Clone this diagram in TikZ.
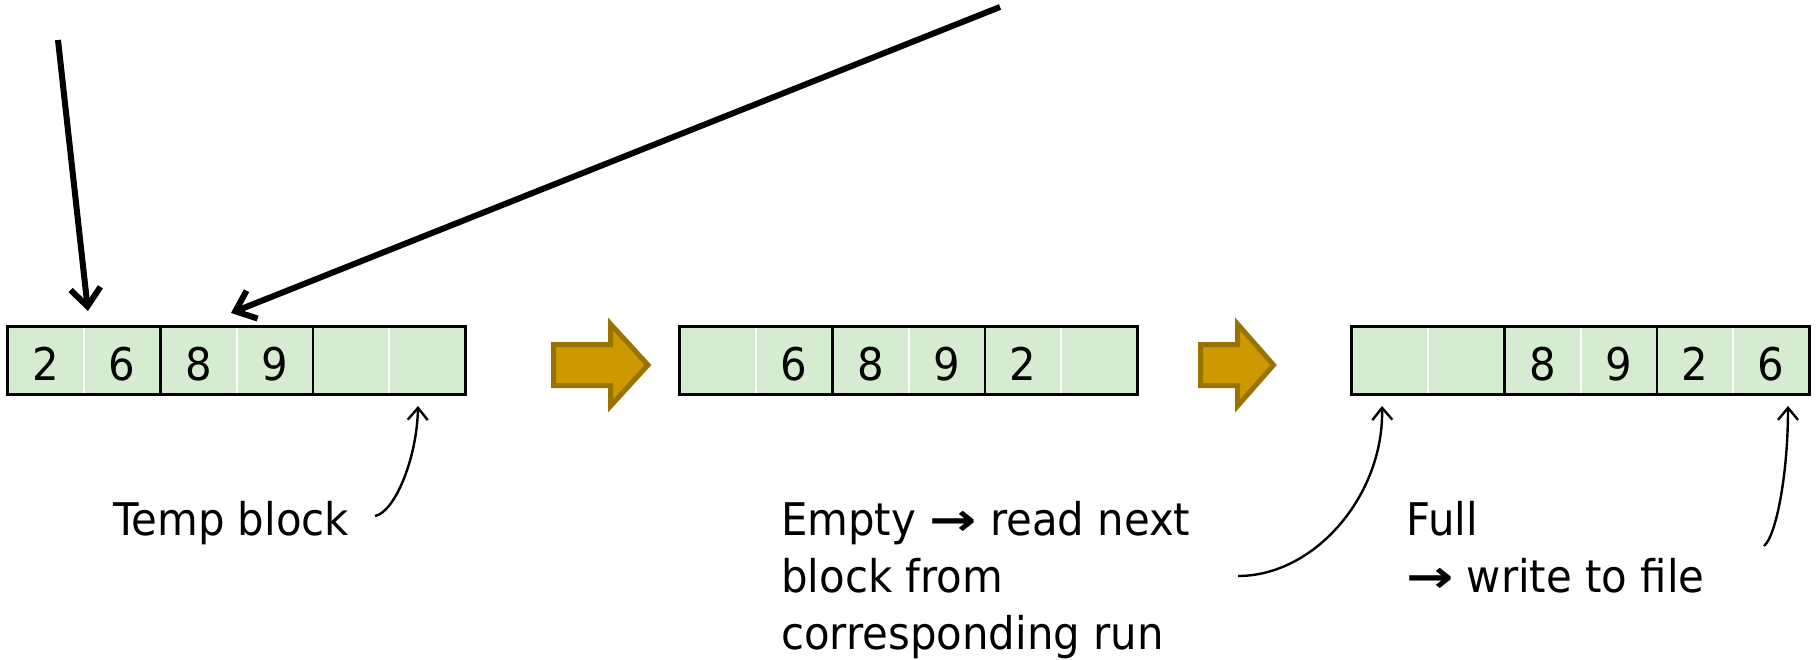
\documentclass[tikz,border=0pt]{standalone}
\usepackage{fontspec}
\setmainfont{DejaVu Sans}[FakeStretch=0.93]
\usetikzlibrary{arrows.meta}
\definecolor{cellgreen}{RGB}{213,236,208}
\definecolor{gold}{RGB}{204,153,0}
\definecolor{golddark}{RGB}{153,115,0}
\newcommand{\rarr}{\scalebox{1.35}[1]{\textbf{→}}}
\begin{document}
\begin{tikzpicture}[x=1pt,y=-1pt,
  cell/.style={rectangle, fill=cellgreen, minimum width=76.17pt, minimum height=67pt, inner sep=0pt,
    text height=39pt, text depth=0pt, font=\fontsize{45}{54}\selectfont},
  lbl/.style={font=\fontsize{45}{57}\selectfont, inner sep=0pt, align=left},
  bigarrow/.style={line width=5pt, draw=golddark, fill=gold, line join=miter},
  thickarrow/.style={line width=6pt, -{Straight Barb[length=18pt,width=30pt]}},
  thinarrow/.style={line width=2.4pt, -{Straight Barb[length=12pt,width=20pt]}},
  border/.style={line width=3pt, draw=black},
  whitediv/.style={line width=2pt, draw=white},
  blackdiv/.style={line width=2.2pt, draw=black},
]
\useasboundingbox (0,0) rectangle (1817,660);

% block 1
\node[cell] (b1c0) at (46.08,360.5) {2};
\node[cell] (b1c1) at (122.25,360.5) {6};
\node[cell] (b1c2) at (198.42,360.5) {8};
\node[cell] (b1c3) at (274.59,360.5) {9};
\node[cell] (b1c4) at (350.76,360.5) {};
\node[cell] (b1c5) at (426.93,360.5) {};
% block 2
\node[cell] (b2c0) at (718.08,360.5) {};
\node[cell] (b2c1) at (794.25,360.5) {6};
\node[cell] (b2c2) at (870.42,360.5) {8};
\node[cell] (b2c3) at (946.59,360.5) {9};
\node[cell] (b2c4) at (1022.76,360.5) {2};
\node[cell] (b2c5) at (1098.93,360.5) {};
% block 3
\node[cell] (b3c0) at (1390.08,360.5) {};
\node[cell] (b3c1) at (1466.25,360.5) {};
\node[cell] (b3c2) at (1542.42,360.5) {8};
\node[cell] (b3c3) at (1618.59,360.5) {9};
\node[cell] (b3c4) at (1694.76,360.5) {2};
\node[cell] (b3c5) at (1770.93,360.5) {6};

\foreach \b in {1,2,3} {
  \foreach \k in {0,2,4} {
    \draw[whitediv] (b\b c\k.north east) -- (b\b c\k.south east);
  }
  \foreach \k in {1,3} {
    \draw[blackdiv] (b\b c\k.north east) -- (b\b c\k.south east);
  }
  \draw[border] (b\b c0.north west) rectangle (b\b c5.south east);
}

% gold arrows
\draw[bigarrow] (553.5,344.5) -- (610.5,344.5) -- (610.5,324) -- (648,365) -- (610.5,406) -- (610.5,385.5) -- (553.5,385.5) -- cycle;
\draw[bigarrow] (1200.5,344.5) -- (1237.5,344.5) -- (1237.5,324) -- (1273.5,365) -- (1237.5,406) -- (1237.5,385.5) -- (1200.5,385.5) -- cycle;

% thick black arrows
\coordinate (a1s) at (58,40);
\coordinate (a1e) at (88,311);
\coordinate (a2s) at (1000,7);
\coordinate (a2e) at (231,313);
\draw[thickarrow] (a1s) -- (a1e);
\draw[thickarrow] (a2s) -- (a2e);

% labels
\node[lbl, anchor=base west] (tb) at (113,535) {Temp block};
\node[lbl, anchor=base west] (em) at (781,649) {Empty \rarr{} read next\\block from\\corresponding run};
\node[lbl, anchor=base west] (fu) at (1406,592) {Full\\\rarr{} write to file};

% thin curved arrows
\coordinate (t1s) at (375,516);
\coordinate (t1e) at (418,406);
\coordinate (t2s) at (1238,576);
\coordinate (t2e) at (1382,406);
\coordinate (t3s) at (1764,546);
\coordinate (t3e) at (1788,406);
\draw[thinarrow] (t1s) .. controls (395,512) and (417,458) .. (t1e);
\draw[thinarrow] (t2s) .. controls (1315,576) and (1384,495) .. (t2e);
\draw[thinarrow] (t3s) .. controls (1776,536) and (1788,475) .. (t3e);
\end{tikzpicture}
\end{document}
